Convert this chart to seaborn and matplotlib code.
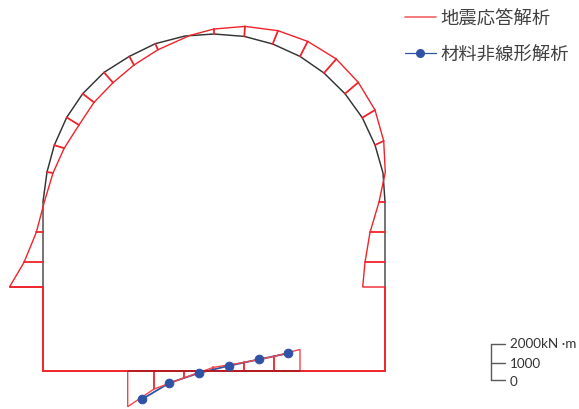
import matplotlib
matplotlib.use("Agg")
import matplotlib.pyplot as plt
import seaborn as sns
import pandas as pd

# Tunnel lining outline (drawing units)
lining_x = [43, 47, 54.3, 66.7, 82.7, 104, 129.3, 155.3, 185, 214, 244.3, 272.7, 300, 324, 345, 362.3, 375, 383, 385]
lining_y = [202, 172.3, 145.5, 117.7, 94, 72.7, 56.7, 44, 36.3, 34.3, 36.7, 44.3, 56.7, 73.3, 94, 118, 145.3, 173.3, 202.3]
wall_left_x = [43, 43]
wall_right_x = [385, 385]
wall_y = [202, 287.3]
floor_x = [127.7, 300]
floor_y = [371, 371]

# Seismic response moment diagram, arch and walls
left_base_x = [43, 9.5, 24, 36.3]
left_base_y = [287.3, 287.3, 262.7, 232.7]
arch_x = [44.3, 53, 64.2, 79, 94, 113, 134, 158, 190, 214, 245, 278, 307.7, 336.3, 358.3, 375, 383.7, 385.3]
arch_y = [202.3, 173.3, 148.5, 125.3, 102.7, 83, 65.3, 50, 35.7, 29.3, 26.7, 31, 41.7, 59.3, 82.7, 110.3, 141.2, 172.7]
right_base_x = [379, 370, 365, 362.7, 385]
right_base_y = [202.3, 232.7, 262.7, 287.3, 287.3]

# Walls below the diagram
wall_red_x = [43, 43, 385, 385]
wall_red_y = [287.3, 371, 371, 287.3]

# Floor diagram
floor_dia_x = [127.7, 127.7, 154, 183.7, 213.3, 244, 274, 300, 300]
floor_dia_y = [371, 407, 389.3, 378.3, 367.7, 362.7, 356.7, 349.7, 371]
floor_tick_x = [154, 183.7, 213.3, 244, 274]
floor_base_y = [371, 371, 371, 371, 371]

# Nonlinear material analysis
nl_x = [141.7, 169.3, 199, 229, 259, 287.7]
nl_y = [399.7, 383.3, 373.3, 366, 359.7, 353.7]

# Arch ticks: lining point -> diagram point
tick_from_x = [47, 54.3, 66.7, 82.7, 104, 129.3, 155.3, 214, 244.3, 272.7, 300, 324, 345, 362.3, 375, 43, 43, 43, 385, 385, 385]
tick_from_y = [172.3, 145.5, 117.7, 94, 72.7, 56.7, 44, 34.3, 36.7, 44.3, 56.7, 73.3, 94, 118, 145.3, 232.7, 262.7, 287.3, 202.3, 232.7, 262.7]
tick_to_x = [53, 64.2, 79, 94, 113, 134, 158, 214, 245, 278, 307.7, 336.3, 358.3, 375, 383.7, 36.3, 24, 9.5, 379, 370, 365]
tick_to_y = [173.3, 148.5, 125.3, 102.7, 83, 65.3, 50, 29.3, 26.7, 31, 41.7, 59.3, 82.7, 110.3, 141.2, 232.7, 262.7, 287.3, 202.3, 232.7, 262.7]

# Scale bar
scale_labels = ["2000kN ·m", "1000", "0"]
scale_y = [344.7, 363, 380]
scale_text_y = [343.5, 363.5, 381.5]

legend_labels = ["地震応答解析", "材料非線形解析"]
RED = "#f0232b"
BLUE = "#2f52a5"
GREY = "#595959"

sns.set_theme(style="white")
plt.rcParams["font.family"] = ["Noto Sans CJK JP", "DejaVu Sans"]

fig = plt.figure(figsize=(5.79, 4.10), dpi=100)
ax = fig.add_axes([0, 0, 1, 1])


def line(x, y, color, lw, z=2, **kw):
    df = pd.DataFrame({"x": x, "y": y})
    sns.lineplot(data=df, x="x", y="y", sort=False, estimator=None, color=color,
                 linewidth=lw, ax=ax, zorder=z, solid_joinstyle="miter", **kw)


line(lining_x, lining_y, "#333333", 1.05, z=2)
line(wall_left_x, wall_y, "#5c5c5c", 1.2, z=2)
line(wall_right_x, wall_y, "#5c5c5c", 1.2, z=2)

tick_rows = []
for i, (a, b, c, d) in enumerate(zip(tick_from_x, tick_from_y, tick_to_x, tick_to_y)):
    tick_rows += [(i, a, b), (i, c, d)]
for i, (a, b, c) in enumerate(zip(floor_tick_x, floor_base_y, floor_dia_y[2:7])):
    tick_rows += [(100 + i, a, b), (100 + i, a, c)]
ticks = pd.DataFrame(tick_rows, columns=["u", "x", "y"])
sns.lineplot(data=ticks, x="x", y="y", units="u", sort=False, estimator=None,
             color=RED, linewidth=1.3, ax=ax, zorder=3)

line(left_base_x + arch_x + right_base_x, left_base_y + arch_y + right_base_y, RED, 1.0, z=4)
line(wall_red_x, wall_red_y, RED, 1.4, z=4)
line(floor_x, floor_y, "#b01c22", 1.3, z=5)
line(nl_x, nl_y, BLUE, 1.3, z=3.5)
line(floor_dia_x, floor_dia_y, "#f0464d", 1.0, z=4)
line(nl_x, nl_y, BLUE, 0, z=6, marker="o", markersize=6.2,
     markeredgecolor=BLUE, markerfacecolor=BLUE)

# Scale bar
gx = 491
line([gx, gx], [scale_y[0], scale_y[-1]], GREY, 1.0, z=2)
for yy in scale_y:
    line([gx, 505], [yy, yy], GREY, 1.0, z=2)
for s, yy in zip(scale_labels, scale_text_y):
    ax.text(510, yy, s, va="center", ha="left", fontsize=9.7, color="#333333",
            family=["Lato", "Noto Sans CJK JP"])

ax.set_xlim(0, 579)
ax.set_ylim(409.3, -0.7)
ax.axis("off")

h1, = ax.plot([], [], color="#f2646a", lw=1.2)
h2, = ax.plot([], [], color=BLUE, lw=0.9, marker="o", markersize=5.5)
leg = ax.legend([h1, h2], legend_labels, loc="upper left", bbox_to_anchor=(404.7 / 579, 1 - 10.5 / 410),
                frameon=False, fontsize=13.2, handlelength=1.72, handletextpad=0.22,
                labelspacing=1.0, borderaxespad=0, borderpad=0, labelcolor="#404040")

fig.savefig("out.png", dpi=100, facecolor="white")
